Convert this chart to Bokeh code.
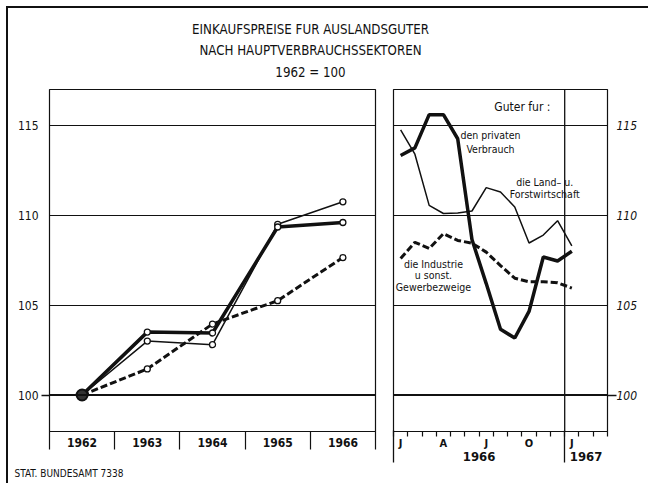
from bokeh.plotting import figure
from bokeh.models import Range1d, FixedTicker, LinearAxis, Span, Title, Grid
from bokeh.layouts import column, row
from bokeh.embed import file_html
from bokeh.resources import INLINE
from bokeh.core.properties import value

FONT = "DejaVu Sans Condensed"
INK = "#111111"

# ---------------- data ----------------
title_lines = ["EINKAUFSPREISE FUR AUSLANDSGUTER", "NACH HAUPTVERBRAUCHSSEKTOREN", "1962 = 100"]
footer_text = "STAT. BUNDESAMT 7338"

years = [1962, 1963, 1964, 1965, 1966]
year_labels = ["1962", "1963", "1964", "1965", "1966"]
privat_year = [100.0, 103.5, 103.45, 109.35, 109.6]
land_year = [100.0, 103.0, 102.8, 109.5, 110.75]
industrie_year = [100.0, 101.45, 103.95, 105.25, 107.65]

# monthly: Jan 1966 ... Jan 1967 (month index 0..12, plotted at month middle)
month_index = [0, 1, 2, 3, 4, 5, 6, 7, 8, 9, 10, 11, 12]
month_letters = ["J", "F", "M", "A", "M", "J", "J", "A", "S", "O", "N", "D", "J"]
privat_month = [113.33, 113.75, 115.6, 115.6, 114.26, 108.65, 106.2, 103.66, 103.17, 104.65, 107.68, 107.46, 108.0]
land_month = [114.76, 113.4, 110.55, 110.1, 110.13, 110.24, 111.54, 111.3, 110.46, 108.46, 108.9, 109.7, 108.3]
industrie_month = [107.6, 108.5, 108.15, 108.98, 108.6, 108.45, 107.95, 107.2, 106.5, 106.3, 106.3, 106.25, 105.95]

y_ticks = [100, 105, 110, 115]
y_labels = ["100", "105", "110", "115"]

month_x = [m + 0.5 for m in month_index]

# ---------------- title ----------------
tf = figure(width=640, height=80, x_range=Range1d(0, 640), y_range=Range1d(80, 0),
            x_axis_type=None, y_axis_type=None, toolbar_location=None,
            output_backend="svg", min_border=0)
tf.grid.visible = False
tf.outline_line_color = None
tf.text(x=[302, 302, 302], y=[21, 42, 64], text=title_lines, text_align="center",
        text_baseline="middle", text_font=value(FONT), text_font_size="13.2px",
        text_color=INK)

# ---------------- left panel (years) ----------------
YR = (97.97, 117.0)
PH = 395
p1 = figure(width=376, height=PH, x_range=Range1d(1961.5, 1966.5), y_range=Range1d(*YR),
            x_axis_type=None, y_axis_type=None, toolbar_location=None, output_backend="svg",
            min_border_left=41, min_border_right=9, min_border_top=1, min_border_bottom=52)
p1.outline_line_color = INK
p1.outline_line_width = 1.2

xa1 = LinearAxis(ticker=FixedTicker(ticks=years, minor_ticks=[1961.5, 1962.5, 1963.5, 1964.5, 1965.5, 1966.5]),
                 major_label_overrides={y: l for y, l in zip(years, year_labels)})
xa1.major_tick_out = 0
xa1.major_tick_in = 0
xa1.minor_tick_out = 18
xa1.minor_tick_in = 0
xa1.minor_tick_line_color = INK
xa1.minor_tick_line_width = 1.2
xa1.axis_line_color = INK
xa1.axis_line_width = 1.2
xa1.major_label_standoff = -12
xa1.major_label_text_font = FONT
xa1.major_label_text_font_size = "12px"
xa1.major_label_text_font_style = "bold"
xa1.major_label_text_color = INK
p1.add_layout(xa1, "below")

# blank spacer axis (white tick, no label) so that the source note sits at the bottom edge
spacer = LinearAxis(ticker=FixedTicker(ticks=[1964], minor_ticks=[]),
                    major_label_overrides={1964: ""}, axis_line_color=None,
                    major_tick_line_color="white", major_tick_out=16, major_tick_in=0,
                    minor_tick_out=0, minor_tick_in=0, major_label_standoff=0,
                    major_label_text_font_size="1px", major_label_text_color="white")
p1.add_layout(spacer, "below")

ya1 = LinearAxis(ticker=FixedTicker(ticks=y_ticks, minor_ticks=[100]),
                 major_label_overrides={t: l for t, l in zip(y_ticks, y_labels)})
ya1.axis_line_color = None
ya1.major_tick_out = 0
ya1.major_tick_in = 0
ya1.minor_tick_out = 8
ya1.minor_tick_in = 0
ya1.minor_tick_line_color = INK
ya1.minor_tick_line_width = 1.5
ya1.major_label_standoff = 3
ya1.major_label_text_font = FONT
ya1.major_label_text_font_size = "12px"
ya1.major_label_text_color = INK
p1.add_layout(ya1, "left")
p1.add_layout(Grid(dimension=1, ticker=ya1.ticker, grid_line_color=INK, grid_line_width=1.1))
p1.add_layout(Span(location=100, dimension="width", line_color=INK, line_width=2))

p1.add_layout(Title(text=footer_text, align="left", offset=-35, standoff=0,
                    text_font=FONT, text_font_size="10px", text_font_style="normal",
                    text_color=INK), "below")

p1.line(years, industrie_year, line_width=3, line_dash="7 3", line_color=INK)
p1.line(years, land_year, line_width=1.5, line_color=INK)
p1.line(years, privat_year, line_width=3.5, line_color=INK)
for series in (industrie_year, land_year, privat_year):
    p1.scatter(years[1:], series[1:], marker="circle", size=6, fill_color="white",
               line_color=INK, line_width=1.3)
p1.scatter(years[:1], privat_year[:1], marker="circle", size=11, fill_color="#333333",
           line_color=INK, line_width=2)

# ---------------- right panel (months) ----------------
p2 = figure(width=256, height=PH, x_range=Range1d(0, 15), y_range=Range1d(*YR),
            x_axis_type=None, y_axis_type=None, toolbar_location=None, output_backend="svg",
            min_border_left=9, min_border_right=31, min_border_top=1, min_border_bottom=52)
p2.outline_line_color = INK
p2.outline_line_width = 1.2

label_months = [0.5, 3.5, 6.5, 9.5, 12.5]
label_letters = ["J", "A", "J", "O", "J"]
xa2 = LinearAxis(ticker=FixedTicker(ticks=label_months, minor_ticks=list(range(16))),
                 major_label_overrides={m: l for m, l in zip(label_months, label_letters)})
xa2.major_tick_out = 0
xa2.major_tick_in = 0
xa2.minor_tick_out = 5
xa2.minor_tick_in = 0
xa2.minor_tick_line_color = INK
xa2.minor_tick_line_width = 1.2
xa2.axis_line_color = INK
xa2.axis_line_width = 1.2
xa2.major_label_standoff = 0
xa2.major_label_text_font = FONT
xa2.major_label_text_font_size = "11px"
xa2.major_label_text_font_style = "bold"
xa2.major_label_text_color = INK
p2.add_layout(xa2, "below")

year_pos = [6, 13.5]
year_txt = ["1966", "1967"]
xa3 = LinearAxis(ticker=FixedTicker(ticks=year_pos, minor_ticks=[0, 12]),
                 major_label_overrides={m: l for m, l in zip(year_pos, year_txt)})
xa3.axis_line_color = None
xa3.major_tick_out = 0
xa3.major_tick_in = 0
xa3.minor_tick_out = 10
xa3.minor_tick_in = 22
xa3.minor_tick_line_color = INK
xa3.minor_tick_line_width = 1.3
xa3.major_label_standoff = -11
xa3.major_label_text_font = FONT
xa3.major_label_text_font_size = "13px"
xa3.major_label_text_font_style = "bold"
xa3.major_label_text_color = INK
p2.add_layout(xa3, "below")

ya2 = LinearAxis(ticker=FixedTicker(ticks=y_ticks, minor_ticks=[100]),
                 major_label_overrides={t: l for t, l in zip(y_ticks, y_labels)})
ya2.axis_line_color = None
ya2.major_tick_out = 0
ya2.major_tick_in = 0
ya2.minor_tick_out = 9
ya2.minor_tick_in = 0
ya2.minor_tick_line_color = INK
ya2.minor_tick_line_width = 1.5
ya2.major_label_standoff = 0
ya2.major_label_text_font = FONT
ya2.major_label_text_font_size = "12px"
ya2.major_label_text_font_style = "italic"
ya2.major_label_text_color = INK
p2.add_layout(ya2, "right")
p2.add_layout(Grid(dimension=1, ticker=ya2.ticker, grid_line_color=INK, grid_line_width=1.1))
p2.add_layout(Span(location=100, dimension="width", line_color=INK, line_width=2))
p2.add_layout(Span(location=12, dimension="height", line_color=INK, line_width=1.3))

p2.line(month_x, industrie_month, line_width=3, line_dash="7 3", line_color=INK)
p2.line(month_x, land_month, line_width=1.5, line_color=INK)
p2.line(month_x, privat_month, line_width=3.5, line_color=INK)

# annotations
p2.text(x=[11.0], y=[116.03], text=["Guter fur :"], text_align="right", text_baseline="middle",
        text_font=value(FONT), text_font_size="12px", text_color=INK)
p2.text(x=[6.8, 6.8], y=[114.46, 113.68], text=["den privaten", "Verbrauch"], text_align="center",
        text_baseline="middle", text_font=value(FONT), text_font_size="10.5px", text_color=INK)
p2.text(x=[10.6, 10.6], y=[111.84, 111.17], text=["die Land\u2013 u.", "Forstwirtschaft"],
        text_align="center", text_baseline="middle", text_font=value(FONT),
        text_font_size="10.5px", text_color=INK)
p2.text(x=[2.8, 2.8, 2.8], y=[107.27, 106.66, 106.02],
        text=["die Industrie", "u sonst.", "Gewerbezweige"], text_align="center",
        text_baseline="middle", text_font=value(FONT), text_font_size="10.5px", text_color=INK)

layout = column(tf, row(p1, p2),
                styles={"border-left": "2px solid #111", "border-top": "2px solid #111",
                        "margin-left": "6px", "margin-top": "6px"})

open("out.html", "w").write(file_html(layout, INLINE))
